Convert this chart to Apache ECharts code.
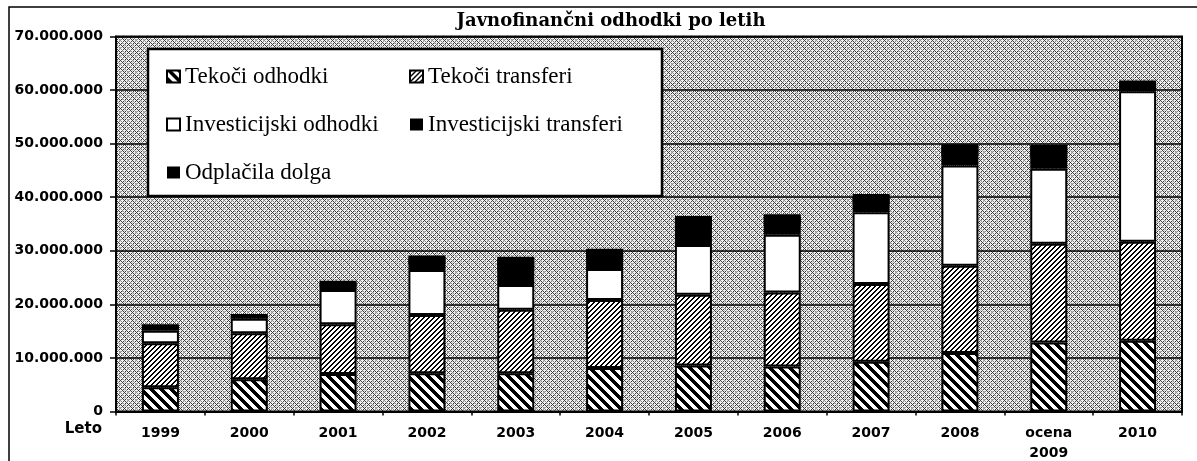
<!DOCTYPE html>
<html>
<head>
<meta charset="utf-8">
<script src="https://cdn.jsdelivr.net/npm/echarts@6/dist/echarts.min.js"></script>
<style>
  html, body { margin: 0; padding: 0; background: #fff; }
  #chart { width: 1197px; height: 461px; }
</style>
</head>
<body>
<div id="chart"></div>
<script>
var chartDom = document.getElementById('chart');
var myChart = echarts.init(chartDom);

// podatki po letih
const leta = ['1999', '2000', '2001', '2002', '2003', '2004', '2005', '2006', '2007', '2008', 'ocena\n2009', '2010'];
const tekociOdhodki = [4550000, 6040000, 6980000, 7160000, 7160000, 8100000, 8600000, 8400000, 9300000, 10900000, 12900000, 13200000];
const tekociTransferi = [8210000, 8560000, 9320000, 10840000, 11840000, 12700000, 13200000, 13800000, 14500000, 16300000, 18400000, 18500000];
const investOdhodki = [2300000, 2700000, 6400000, 8400000, 4600000, 5800000, 9300000, 10800000, 13400000, 18700000, 14000000, 28100000];
const investTransferi = [700000, 500000, 1000000, 1500000, 3000000, 2100000, 3000000, 2100000, 1900000, 2200000, 2500000, 1100000];
const odplacilaDolga = [540000, 400000, 700000, 1200000, 2300000, 1700000, 2400000, 1700000, 1500000, 1800000, 2000000, 900000];
const yTicks = [0, 10000000, 20000000, 30000000, 40000000, 50000000, 60000000, 70000000];

// vzorci (šrafure)
function makePattern(size, fn, bg) {
  var c = document.createElement('canvas');
  c.width = size; c.height = size;
  var ctx = c.getContext('2d');
  ctx.fillStyle = bg;
  ctx.fillRect(0, 0, size, size);
  for (var y = 0; y < size; y++) {
    for (var x = 0; x < size; x++) {
      var v = fn(x, y);
      if (v) { ctx.fillStyle = v; ctx.fillRect(x, y, 1, 1); }
    }
  }
  return { image: c, repeat: 'repeat' };
}

// debele črte "\"
const vzorecOdhodki = makePattern(10, (x, y) => (((x - y) % 10 + 10) % 10) < 5 ? '#000' : null, '#fff');
// tanke črte "/"
const vzorecTransferi = makePattern(5, (x, y) => ((x + y) % 5) < 2 ? '#000' : null, '#fff');
// sivo ozadje
const vzorecOzadje = makePattern(8, (x, y) => {
  if (((x + y) % 4 === 0) || (((x - y) % 4 + 4) % 4 === 0)) return ((x + 2 * y) % 3 === 0) ? '#8c8c8c' : '#3a3a3a';
  if ((x * 3 + y * 5) % 7 === 0) return '#b4b4b4';
  return null;
}, '#f2f2f2');

const fmt = (v) => v === 0 ? '0' : v.toLocaleString('de-DE');

const barBase = {
  type: 'bar',
  stack: 'skupaj',
  barWidth: 37
};

const legendBase = {
  z: 20,
  orient: 'vertical',
  top: 60,
  icon: 'rect',
  itemWidth: 13,
  itemHeight: 12,
  itemGap: 25,
  textStyle: { fontFamily: 'Liberation Serif', fontSize: 23, color: '#000' }
};

var option = {
  animation: false,
  backgroundColor: '#fff',
  title: {
    text: 'Javnofinančni odhodki po letih',
    left: 606,
    textAlign: 'center',
    top: 7,
    textStyle: { fontFamily: 'DejaVu Serif', fontSize: 18, fontWeight: 'bold', color: '#000' }
  },
  graphic: [
    {
      type: 'rect', z: 1, silent: true,
      shape: { x: 9, y: 7, width: 1200, height: 470 },
      style: { fill: null, stroke: '#000', lineWidth: 1.5 }
    },
    {
      type: 'rect', z: 10, silent: true,
      shape: { x: 148, y: 49, width: 514, height: 147 },
      style: { fill: '#fff', stroke: '#000', lineWidth: 2.5 }
    }
  ],
  legend: [
    Object.assign({}, legendBase, { left: 161, data: ['Tekoči odhodki', 'Investicijski odhodki', 'Odplačila dolga'] }),
    Object.assign({}, legendBase, { left: 404, data: ['Tekoči transferi', 'Investicijski transferi'] })
  ],
  grid: {
    left: 116, right: 15, top: 36.5, bottom: 49.5,
    outerBoundsMode: 'none',
    containLabel: false,
    show: true,
    backgroundColor: vzorecOzadje,
    borderColor: '#000',
    borderWidth: 2
  },
  xAxis: {
    type: 'category',
    data: leta,
    name: 'Leto',
    nameLocation: 'start',
    nameGap: 14,
    nameTextStyle: {
      fontFamily: 'DejaVu Sans', fontSize: 15, fontWeight: 'bold', color: '#000',
      verticalAlign: 'top', padding: [10, 0, 0, 0]
    },
    axisLine: { lineStyle: { color: '#000', width: 2 } },
    axisTick: { show: true, length: 4, lineStyle: { color: '#000', width: 1.5 } },
    axisLabel: {
      margin: 12,
      fontFamily: 'DejaVu Sans', fontSize: 14, fontWeight: 'bold', color: '#000',
      lineHeight: 20
    }
  },
  yAxis: {
    type: 'value',
    min: yTicks[0],
    max: yTicks[yTicks.length - 1],
    interval: 10000000,
    axisLine: { show: true, lineStyle: { color: '#000', width: 2 } },
    axisTick: { show: true, length: 6, lineStyle: { color: '#000', width: 1.5 } },
    splitLine: { show: true, lineStyle: { color: '#000', width: 1.5 } },
    axisLabel: {
      margin: 13,
      fontFamily: 'DejaVu Sans', fontSize: 14, fontWeight: 'bold', color: '#000',
      formatter: fmt
    }
  },
  series: [
    Object.assign({}, barBase, { name: 'Tekoči odhodki', data: tekociOdhodki,
      itemStyle: { color: vzorecOdhodki, borderColor: '#000', borderWidth: 2 } }),
    Object.assign({}, barBase, { name: 'Tekoči transferi', data: tekociTransferi,
      itemStyle: { color: vzorecTransferi, borderColor: '#000', borderWidth: 2 } }),
    Object.assign({}, barBase, { name: 'Investicijski odhodki', data: investOdhodki,
      itemStyle: { color: '#fff', borderColor: '#000', borderWidth: 2 } }),
    Object.assign({}, barBase, { name: 'Investicijski transferi', data: investTransferi,
      itemStyle: { color: '#000', borderColor: '#000', borderWidth: 0 } }),
    Object.assign({}, barBase, { name: 'Odplačila dolga', data: odplacilaDolga,
      itemStyle: {
        color: '#000', borderColor: '#000', borderWidth: 0,
        shadowColor: '#000', shadowBlur: 0, shadowOffsetY: 2
      } })
  ]
};

option && myChart.setOption(option);

window.addEventListener('resize', function () {
  myChart.resize();
});
</script>
</body>
</html>
